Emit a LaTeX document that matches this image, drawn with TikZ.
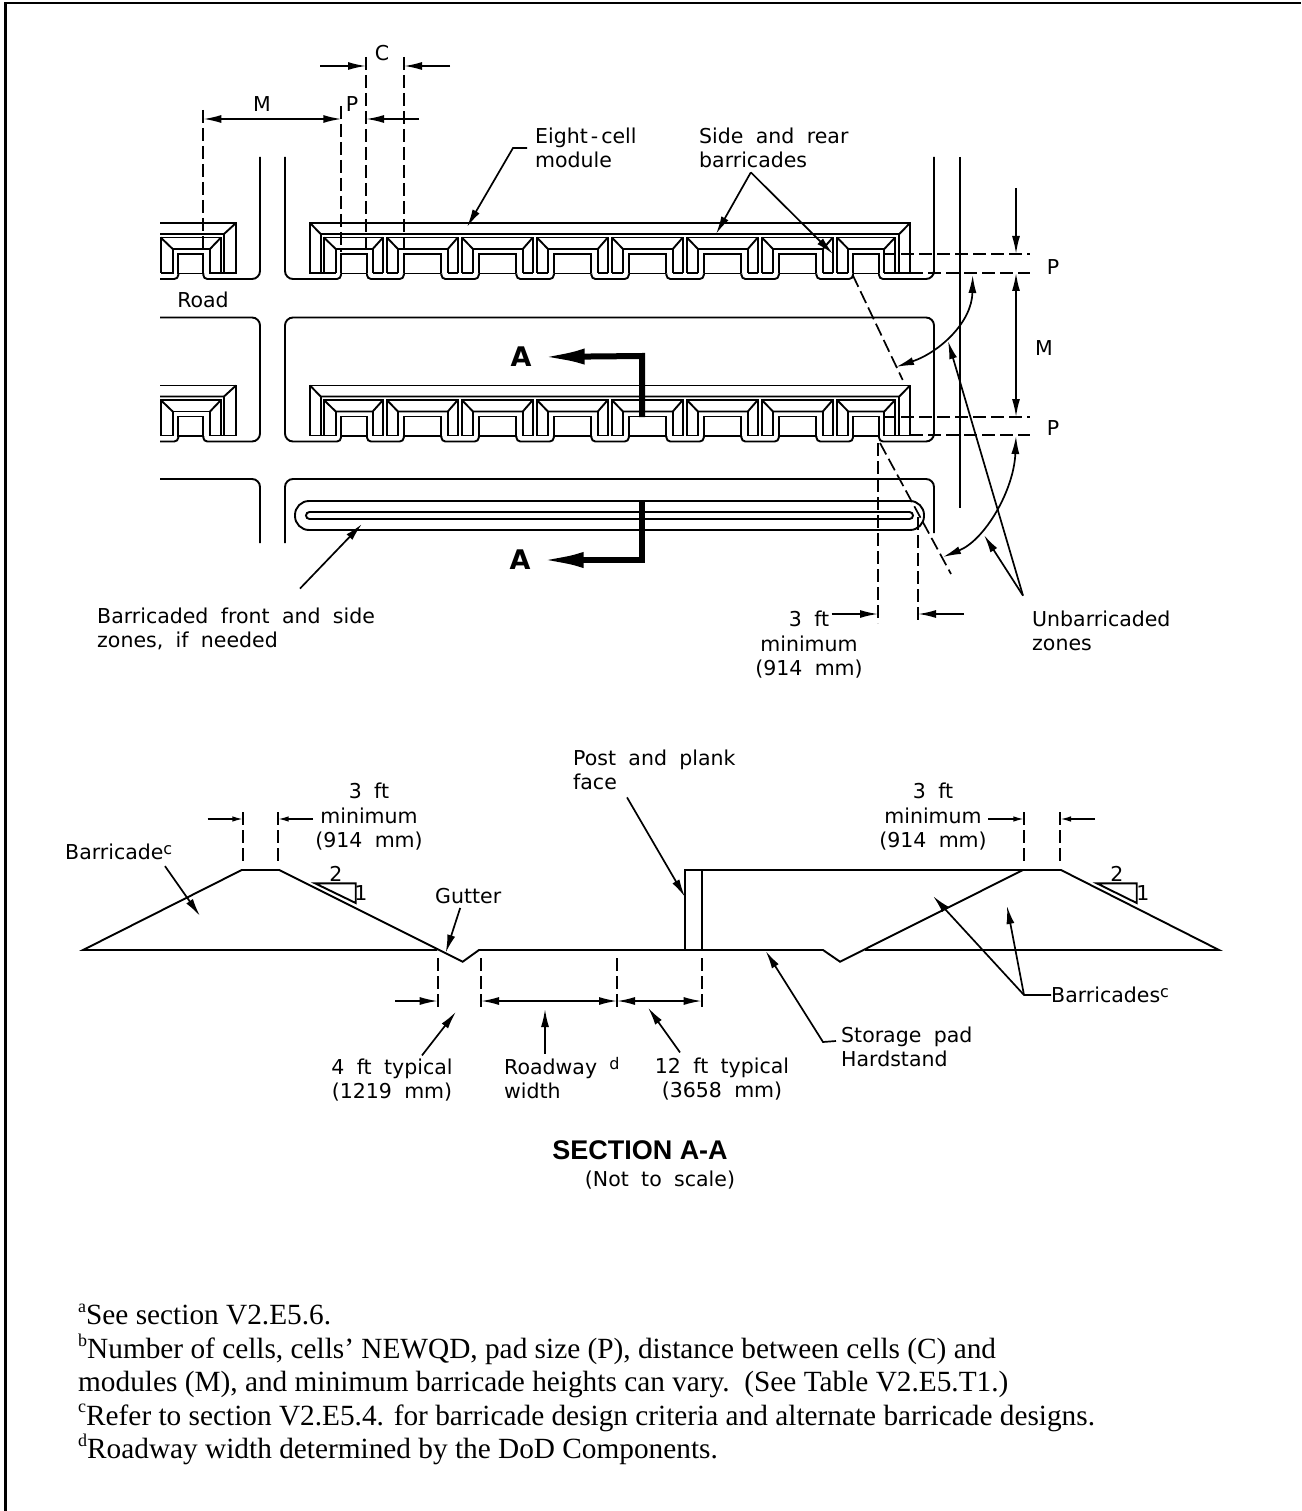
\documentclass[tikz,border=0pt]{standalone}
\usepackage{fontspec}
\setmainfont{Liberation Serif}
\newfontfamily\cadfont[WordSpace=1.9]{DejaVu Sans}
\newfontfamily\titlefont{Liberation Sans}
\usetikzlibrary{arrows.meta}
\newcommand{\notemark}[1]{\raisebox{.42em}{\fontsize{18}{18}\selectfont #1}}

\tikzset{
  wall/.style={line width=1.9pt},
  dim/.style={line width=1.7pt, dash pattern=on 13pt off 5pt},
  leader/.style={line width=1.7pt, -{Latex[length=18pt,width=8pt]}},
  both/.style={line width=1.7pt, {Latex[length=18pt,width=8pt]}-{Latex[length=18pt,width=8pt]}},
  tiny/.style={line width=1.7pt, -{Latex[length=11pt,width=5.5pt]}},
  section/.style={line width=6pt, -{Latex[length=45pt,width=16pt]}},
  cad/.style={font=\cadfont\fontsize{20.5}{24.5}\selectfont, inner sep=0pt, align=left},
  cadmid/.style={cad, align=center},
  letter/.style={font=\cadfont\bfseries\fontsize{27}{27}\selectfont, inner sep=0pt}
}

\begin{document}
\begin{tikzpicture}[x=1pt,y=-1pt]
\useasboundingbox (0,0) rectangle (1301,1511);
\draw[line width=2.2pt] (5.5,1511) -- (5.5,3) -- (1301,3);

% modules, row 1 and row 2
\foreach \yy in {0,162.5} {
\begin{scope}[shift={(0,\yy)}, wall]
\draw (320.7,273) -- (310,273) -- (310,223) -- (910,223) -- (910,273) -- (899.3,273);
\draw (310,223) -- (320.7,234) -- (899.3,234) -- (910,223);
\draw (320.7,234) -- (320.7,273);
\draw (899.3,234) -- (899.3,273);
\draw (324,273) -- (324,237.5) -- (383,237.5) -- (383,273);
\draw (324,237.5) -- (335.7,249) -- (372.7,249) -- (383,237.5);
\draw (335.7,249) -- (335.7,273);
\draw (372.7,249) -- (372.7,273);
\draw (341,273.5) -- (341,254) -- (367,254) -- (367,273.5);
\draw (310,273) -- (335.7,273);
\draw (372.7,273) -- (383,273);
% middle cells
\foreach \cc in {386.8,461.8,536.8,611.8,686.8,761.8} {
  \draw (\cc,273) -- (\cc,237.5) -- (\cc+71,237.5) -- (\cc+71,273);
  \draw (\cc,237.5) -- (\cc+11.2,249) -- (\cc+61,249) -- (\cc+71,237.5);
  \draw (\cc+11.2,249) -- (\cc+11.2,273);
  \draw (\cc+61,249) -- (\cc+61,273);
  \draw (\cc+17,273.5) -- (\cc+17,254) -- (\cc+54.6,254) -- (\cc+54.6,273.5);
  \draw (\cc,273) -- (\cc+11.2,273);
  \draw (\cc+61,273) -- (\cc+71,273);
}
\draw (837,273) -- (837,237.5) -- (895,237.5) -- (895,273);
\draw (837,237.5) -- (848.3,249) -- (884.3,249) -- (895,237.5);
\draw (848.3,249) -- (848.3,273);
\draw (884.3,249) -- (884.3,273);
\draw (853,273.5) -- (853,254) -- (879,254) -- (879,273.5);
\draw (837,273) -- (848.3,273);
\draw (884.3,273) -- (910,273);
% road edge round the pads
\foreach \pl/\pr in {341/367,403.8/441.4,478.8/516.4,553.8/591.4,628.8/666.4,703.8/741.4,778.8/816.4,853/879}
  \draw (\pl,273.5) -- (\pr,273.5);
\foreach \pr/\pl in {367/403.8,441.4/478.8,516.4/553.8,591.4/628.8,666.4/703.8,741.4/778.8,816.4/853}
  \draw[rounded corners=4pt] (\pr,273.5) -- (\pr,279) -- (\pl,279) -- (\pl,273.5);
% module beyond the road
\draw (160,223) -- (236,223) -- (236,273) -- (210,273) -- (210,249) -- (172.7,249) -- (172.7,273) -- (160.7,273);
\draw (160,234) -- (224,234) -- (236,223);
\draw (224,234) -- (224,273);
\draw (160,237.5) -- (221,237.5) -- (221,273);
\draw (221,237.5) -- (210,249);
\draw (160.7,237.5) -- (172.7,249);
\draw (160.7,237.5) -- (160.7,273);
\draw (178.3,273.5) -- (178.3,254) -- (203.3,254) -- (203.3,273.5) -- cycle;
\draw[rounded corners=4pt] (160,279) -- (178.3,279) -- (178.3,273.5);
\end{scope}
}

% road edges
\begin{scope}[wall]
\draw[rounded corners=4pt] (341,273.5) -- (341,279) [rounded corners=8pt] -- (285,279) -- (285,157);
\draw[rounded corners=8pt] (934,157) -- (934,279) [rounded corners=4pt] -- (879,279) -- (879,273.5);
\draw[rounded corners=8pt] (260,157) -- (260,279) [rounded corners=4pt] -- (203.3,279) -- (203.3,273.5);
\draw[rounded corners=4pt] (341,436) -- (341,441.5) [rounded corners=8pt] -- (285,441.5) -- (285,317.5) -- (934,317.5) -- (934,441.5) [rounded corners=4pt] -- (879,441.5) -- (879,436);
\draw[rounded corners=8pt] (160,317.5) -- (260,317.5) -- (260,441.5) [rounded corners=4pt] -- (203.3,441.5) -- (203.3,436);
\draw[rounded corners=8pt] (285,543) -- (285,479) -- (934,479) -- (934,533);
\draw[rounded corners=8pt] (160,479) -- (260,479) -- (260,543);
\draw (960,157) -- (960,508);
\draw[rounded corners=14pt] (295,501) rectangle (924,530);
\draw[rounded corners=3.5pt] (306,512) rectangle (913,519);
\end{scope}

% section marks
\node[letter] (seca) at (521,357) {A};
\node[letter] (secb) at (520,560) {A};
\draw[section] (642,417) -- (642,356) -- ([xshift=8pt]seca.east);
\draw[section] (642,501) -- (642,560) -- ([xshift=8pt]secb.east);

% labels of the plan
\node[cad, anchor=center] (lbm) at (262,104) {M};
\node[cad, anchor=center] (lbp) at (352,104) {P};
\node[cad, anchor=center] (lbc) at (382,53) {C};
\node[cad, anchor=west] (modlab) at (535,148) {Eight\kern3pt-\kern3pt cell\\module};
\node[cad, anchor=west] (sidelab) at (699,148) {Side and rear\\barricades};
\node[cad, anchor=center] (roadlab) at (203,300) {Road};
\node[cad, anchor=center] (pone) at (1053,267) {P};
\node[cad, anchor=center] (mtwo) at (1044,348) {M};
\node[cad, anchor=center] (ptwo) at (1053,428) {P};
\node[cad, anchor=west] (frontlab) at (97,629) {Barricaded front and side\\zones, if needed};
\node[cad, anchor=west] (unblab) at (1032,631) {Unbarricaded\\zones};
\node[cadmid] (minone) at (809,645) {3 ft\\minimum\\(914 mm)};

% dimensions of the plan
\begin{scope}[dim]
\draw (203.3,110) -- (203.3,253);
\draw (341.3,106) -- (341.3,252);
\draw (366,57) -- (366,250);
\draw (404,57) -- (404,251);
\draw (883,254) -- (1030,254);
\draw (910,272.7) -- (1030,272.7);
\draw (883,417) -- (1030,417);
\draw (910,435.2) -- (1030,435.2);
\draw (852.7,275) -- (902.7,380);
\draw (880,443) -- (951,574);
\draw (878.3,443) -- (878.3,623);
\draw (917.7,517) -- (917.7,622);
\end{scope}
\draw[both] (203.3,119) -- (341.3,119);
\draw[leader] (320,66) -- (366,66);
\draw[leader] (450,66) -- (404,66);
\draw[leader] (419,119) -- (366,119);
\draw[leader] (831.7,614) -- (878,614);
\draw[leader] (964,614) -- (918,614);
\draw[leader] (1016,188) -- (1016,254);
\draw[both] (1016,273) -- (1016,417);

% leaders of the plan
\coordinate (modtip) at (467,227);
\coordinate (sidetipa) at (716,234);
\coordinate (sidetipb) at (833,254);
\coordinate (fronttip) at (362,524);
\coordinate (unbtipa) at (948,341);
\coordinate (unbtipb) at (984,535);
\coordinate (zonea) at (972.7,275);
\coordinate (zoneb) at (896,367);
\coordinate (zonec) at (1016,436);
\coordinate (zoned) at (943,557);
\draw[leader] ([shift={(-8,0)}]modlab.west) -- (513,148) -- (modtip);
\draw[leader] ([shift={(-23,4)}]sidelab.south) -- (sidetipa);
\draw[leader] ([shift={(-23,4)}]sidelab.south) -- (sidetipb);
\draw[leader] ([shift={(203,-19)}]frontlab.north west) -- (fronttip);
\draw[leader] ([shift={(-9,-15)}]unblab.north west) -- (unbtipa);
\draw[leader] ([shift={(-9,-15)}]unblab.north west) -- (unbtipb);
\draw[both] (zonea) .. controls (972,322) and (940,352) .. (zoneb);
\draw[both] (zonec) .. controls (1014,490) and (985,540) .. (zoned);

% section A-A
\begin{scope}[wall]
\draw (437,950) -- (83,950) -- (241.7,870) -- (279.3,870) -- (462.7,961.7) -- (479,950) -- (823,950) -- (840,961.7) -- (1023,870) -- (1061,870) -- (1219,950) -- (865,950);
\draw (685,950) -- (685,870) -- (1023,870);
\draw (701.7,870) -- (701.7,950);
\draw (315,883.3) -- (355.7,883.3) -- (355.7,903) -- cycle;
\draw (1096.7,883.3) -- (1136.7,883.3) -- (1136.7,903) -- cycle;
\end{scope}
\begin{scope}[dim]
\draw (243.3,812) -- (243.3,865);
\draw (277.7,812) -- (277.7,865);
\draw (1024.3,812) -- (1024.3,865);
\draw (1060,812) -- (1060,865);
\draw (437.7,958) -- (437.7,1009);
\draw (481,958) -- (481,1009);
\draw (617,958) -- (617,1009);
\draw (701.7,958) -- (701.7,1009);
\end{scope}
\draw[tiny] (207.7,819) -- (243.3,819);
\draw[tiny] (313,819) -- (277.7,819);
\draw[tiny] (988,819) -- (1024.3,819);
\draw[tiny] (1095,819) -- (1060,819);
\draw[leader] (395,1001) -- (437.7,1001);
\draw[both] (481,1001) -- (617,1001);
\draw[both] (617,1001) -- (701.7,1001);

% labels of the section
\node[cad, anchor=center] (twoa) at (336,874) {2};
\node[cad, anchor=center] (onea) at (361,893) {1};
\node[cad, anchor=center] (twob) at (1117,874) {2};
\node[cad, anchor=center] (oneb) at (1143,893) {1};
\node[cadmid] (mina) at (369,817) {3 ft\\minimum\\(914 mm)};
\node[cadmid] (minb) at (933,817) {3 ft\\minimum\\(914 mm)};
\node[cad, anchor=west] (barlab) at (65,852) {Barricade\raisebox{5pt}{\fontsize{16}{16}\selectfont c}};
\node[cad, anchor=west] (gutlab) at (435,896) {Gutter};
\node[cad, anchor=west] (postlab) at (573,770) {Post and plank\\face};
\node[cad, anchor=west] (barslab) at (1051,995) {Barricades\raisebox{5pt}{\fontsize{16}{16}\selectfont c}};
\node[cad, anchor=west] (padlab) at (841,1047) {Storage pad\\Hardstand};
\node[cadmid] (fourlab) at (392,1080) {4 ft typical\\(1219 mm)};
\node[cad, anchor=west] (roadwlab) at (504,1078) {Roadway\raisebox{5pt}{\fontsize{16}{16}\selectfont\, d}\\width};
\node[cadmid] (twelvelab) at (722,1079) {12 ft typical\\(3658 mm)};
\node[font=\titlefont\bfseries\fontsize{27}{27}\selectfont, inner sep=0pt] (titlelab) at (640,1150) {SECTION A-A};
\node[cad, anchor=center] (notlab) at (660,1180) {(Not to scale)};

% leaders of the section
\coordinate (bartip) at (200,916);
\coordinate (guttip) at (445.7,952.7);
\coordinate (posttip) at (685,897);
\coordinate (barstipa) at (933,896);
\coordinate (barstipb) at (1007,906);
\coordinate (padtip) at (765.7,951);
\coordinate (fourtip) at (456,1011.7);
\coordinate (roadwtip) at (545,1009);
\coordinate (twelvetip) at (648,1007.6);
\draw[leader] ([shift={(100,6)}]barlab.south west) -- (bartip);
\draw[leader] ([shift={(-8,4)}]gutlab.south) -- (guttip);
\draw[leader] ([shift={(54,7)}]postlab.south west) -- (posttip);
\draw[leader] (barslab.west) -- (1024,995) -- (barstipa);
\draw[leader] (1024,995) -- (barstipb);
\draw[leader] ([shift={(-5,-6)}]padlab.west) -- (823,1042) -- (padtip);
\draw[leader] ([shift={(30,-3)}]fourlab.north) -- (fourtip);
\draw[leader] ([shift={(41,-3)}]roadwlab.north west) -- (roadwtip);
\draw[leader] ([shift={(-42,-5)}]twelvelab.north) -- (twelvetip);

% notes
\node[anchor=north west, inner sep=0pt, align=left, font=\fontsize{29.3}{33.4}\selectfont] (notes) at (78,1304) {\notemark{a}See section V2.E5.6.\\
\notemark{b}Number of cells, cells' NEWQD, pad size (P), distance between cells (C) and\\
modules (M), and minimum barricade heights can vary.\ \ (See Table V2.E5.T1.)\\
\notemark{c}Refer to section V2.E5.4. for barricade design criteria and alternate barricade designs.\\
\notemark{d}Roadway width determined by the DoD Components.};
\end{tikzpicture}
\end{document}
